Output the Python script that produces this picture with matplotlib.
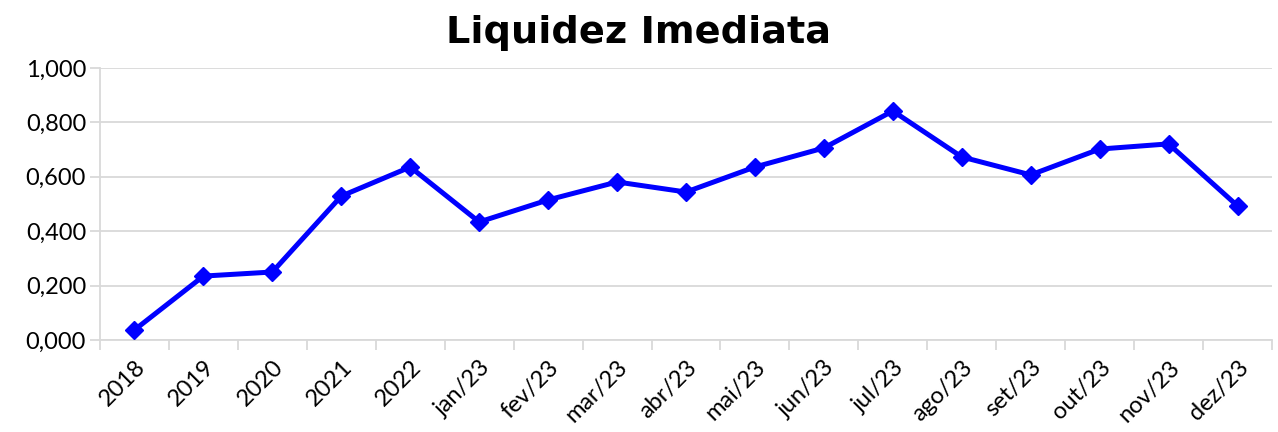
import numpy as np
import matplotlib.pyplot as plt
from matplotlib.ticker import FuncFormatter

# dados
periodos = ["2018", "2019", "2020", "2021", "2022", "jan/23", "fev/23", "mar/23",
            "abr/23", "mai/23", "jun/23", "jul/23", "ago/23", "set/23", "out/23",
            "nov/23", "dez/23"]
liquidez = [0.037, 0.235, 0.250, 0.529, 0.636, 0.434, 0.515, 0.581, 0.544,
            0.636, 0.706, 0.842, 0.673, 0.607, 0.702, 0.721, 0.493]

grid_cor = "#d9d9d9"

fig = plt.figure(figsize=(12.78, 4.32), dpi=100)
ax = fig.add_axes([100 / 1278, 1 - 340 / 432, 1172 / 1278, 272 / 432])

x = np.arange(len(periodos))
ax.plot(x, liquidez, color="#0000ff", lw=3.6, marker="D", markersize=9, zorder=3)

ax.set_xlim(-0.5, len(periodos) - 0.5)
ax.set_ylim(0, 1.0)
ax.set_yticks(np.arange(0, 1.01, 0.2))
ax.yaxis.set_major_formatter(FuncFormatter(lambda v, p: f"{v:.3f}".replace(".", ",")))
ax.grid(axis="y", color=grid_cor, lw=1.3)
ax.set_axisbelow(True)

# ticks nas fronteiras, rotulos no centro
ax.set_xticks(np.arange(-0.5, len(periodos)), labels=[])
ax.set_xticks(x, minor=True)
ax.set_xticklabels(periodos, minor=True, rotation=45, ha="right",
                   rotation_mode="anchor", fontsize=17, family="Lato")
ax.tick_params(axis="x", which="major", length=7, color=grid_cor, width=1.3)
ax.tick_params(axis="x", which="minor", length=0, pad=12)
ax.tick_params(axis="y", length=7, color=grid_cor, width=1.3, labelsize=17, pad=3)
for lbl in ax.get_yticklabels():
    lbl.set_family("Lato")

for s in ["top", "right"]:
    ax.spines[s].set_visible(False)
for s in ["left", "bottom"]:
    ax.spines[s].set_color(grid_cor)
    ax.spines[s].set_linewidth(1.3)

fig.text(0.5, 0.965, "Liquidez Imediata", ha="center", va="top",
         fontsize=27.5, fontweight="bold", family="DejaVu Sans")

fig.savefig("out.png", dpi=100)
